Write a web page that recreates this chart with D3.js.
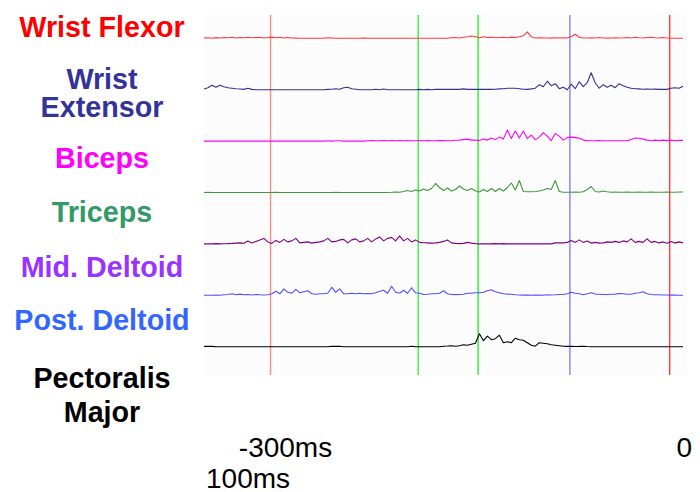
<!DOCTYPE html>
<html>
<head>
<meta charset="utf-8">
<script src="https://cdn.jsdelivr.net/npm/d3@7"></script>
<style>
  html, body { margin: 0; padding: 0; background: #fff; }
  svg { display: block; font-family: "Liberation Sans", Arial, sans-serif; }
</style>
</head>
<body>
<div id="chart"></div>
<script>
// EMG traces, one sample every 3 ms from -350 ms to +10 ms (amplitude, arbitrary units)
const channels = ["Wrist Flexor", "Wrist Extensor", "Biceps", "Triceps", "Mid. Deltoid", "Post. Deltoid", "Pectoralis Major"];
const labelLines = [["Wrist Flexor"], ["Wrist", "Extensor"], ["Biceps"], ["Triceps"], ["Mid. Deltoid"], ["Post. Deltoid"], ["Pectoralis", "Major"]];
const tStart = -350;
const tStep = 3;

const wristFlexor = [
  0.3, 0.5, 0, 0.7, 0.3, 0.8, 0.5, 1, 0.3, 0.8,
  0.5, 1, 0.5, 0.8, 1, 0.3, 0.8, 1.2, 0.5, 1,
  0.3, 0.8, 0.3, 0.2, 0, 0, 0, 0, 0, 0,
  0, 0.5, 0.3, 0, 0, 0, 0, 0, 0, 0,
  0.3, 0, 0, 0, 0, 0, 0, 0, 0, 0,
  0, 0, 0, 0, 0, 0, 0, 0, 0, 0,
  0, 0, 0.5, 0.8, 0.3, 1, 1.5, 2.3, 1.5, 0.5,
  1.5, 0.8, 1, 0.5, 0.8, 1, 0.5, 1.2, 0.8, 1.5,
  2.5, 6.5, 1.5, 0.3, 0.5, 0.3, 0.3, 0.2, 0.5, 0.3,
  0.5, 0.3, 1.5, 4, 1, 0.3, 0.3, 0.5, 0.3, 0.8,
  0.3, 0.2, 0.3, 0.5, 0.3, 0.5, 0.8, 0.3, 1, 0.5,
  0.3, 0.8, 1, 0.5, 0.3, 0.8, 0.3, 0, 0, 0,
  0
];
const wristExtensor = [
  0.7, 2, 4.5, 2.5, 4.5, 3, 2, 1.5, 1, 0.7,
  0.3, 1.5, 0.3, 0, 0, 0, 0, 0, 0, 0,
  0, 0, 0, 0, 0, 0, 0, 0, 0, 0,
  0, 0.3, 0.5, 1, 0.5, 2, 2.5, 1, 0.5, 0,
  0, 0, 0, 0.5, 0, 0.7, 0, 0, 0, 0,
  0, 0, 0, 0, 0.3, 0, 0.3, 0, 0.3, 0.5,
  0.3, 0.5, 0.3, 0.5, 0.3, 0.8, 0.3, 0.5, 0.3, 0.3,
  0.3, 0.5, 0.3, 0.5, 0.8, 1, 1.5, 1.5, 1.5, 1,
  0.5, 0.3, 0.8, 1.5, 5, 3, 8.5, 4, 6, 1,
  2.5, 0, 5.5, 1, 8, 3, 7, 17, 7, 1.5,
  5, 2.5, 4.5, 2, 6, 4, 2.5, 1.5, 1, 0.8,
  0.5, 0.6, 0.4, 0.6, 0.3, 0.5, 0.3, 1.5, 2, 1.5,
  3.5
];
const biceps = [
  0, 0, 0, 0, 0, 0, 0, 0, 0, 0,
  0, 0, 0, 0, 0, 0, 0, 0, 0, 0,
  0, 0, 0, 0, 0, 0, 0, 0, 0, 0,
  0, 0.3, 0, 0.3, 0.3, 0, 0, 0, 0, 0,
  0, 0.3, 0.5, 0.3, 0.3, 0.5, 0.3, 0.5, 0.3, 0.5,
  0.3, 0.5, 0.3, 0.3, 0.5, 0.3, 0.5, 0.3, 0.3, 0.5,
  0.5, 0.3, 0.3, 0.8, 1, 1.5, 2, 1, 1, 0.5,
  2, 1, 3, 1.5, 4, 2, 11, 2.5, 10, 3,
  10, 2.5, 6, 1.5, 4, 8.5, 5, 0.5, 7.5, 5,
  1, 3.5, 4, 3.5, 3, 1, 0.5, 0.3, 0.3, 0.5,
  0.3, 0.3, 0.3, 0.3, 0.3, 0.3, 0.3, 1.5, 3, 2.8,
  2, 1, 0.3, 1, 0.5, 1, 0.5, 1, 0.3, 0.7,
  0.7
];
const triceps = [
  0, 0.3, 0, 0, 0, 0, 0, 0, 0, 0,
  0, 0, 0, 0, 0, 0, 0, 0, 0.3, 0,
  0, 0, 0, 0, 0, 0, 0, 0, 0, 0,
  0, 0, 0, 0.3, 0, 0, 0, 0, 0, 0,
  0, 0, 0, 0, 0, 0, 0, 0.2, 0.5, 0.3,
  1, 2, 1, 2.5, 1.5, 3.5, 2, 4, 9, 5,
  2, 4.5, 1.5, 3, 6.5, 3.5, 2, 4, 1.5, 0.5,
  3, 1, 4, 1, 4, 1.5, 5, 9.5, 2.5, 12,
  1, 0.7, 0.7, 1, 1.5, 2.5, 4, 3, 12, 1,
  0.3, 0.2, 0.2, 0.5, 0.3, 0.8, 3, 6, 1, 0.5,
  1.5, 0.8, 0.3, 0.5, 0.3, 0.2, 0.5, 0.3, 0.2, 0.5,
  0.3, 0.2, 0.5, 0.3, 0.2, 0.3, 0.5, 0.2, 0.3, 0.5,
  0.5
];
const midDeltoid = [
  0, 0.2, 0, 0.3, 0, 0.2, 0.3, 0.5, 0.8, 1,
  0.7, 3, 1, 2.5, 4, 5.5, 2, 0.5, 3.5, 1.5,
  4.5, 2, 3, 5.5, 1, 1.5, 2, 0.8, 1.5, 2,
  3, 5.5, 2, 2.5, 4, 4.5, 1, 4, 5, 2,
  3, 5.5, 2, 5, 7, 3, 5.5, 6.5, 3, 8,
  3, 5.5, 2, 4, 1.5, 1.2, 1, 0.8, 1, 1.5,
  2.5, 4, 1, 0.5, 0.3, 0.5, 1.5, 0.8, 0.3, 0,
  0, 0, 0, 0.3, 0, 0.3, 0, 0, 0, 0,
  0, 0, 0, 0, 0, 0, 0, 0, 1, 1.2,
  1, 1.5, 3.5, 1.5, 4, 1.5, 3, 0.8, 1.5, 0.8,
  1, 2, 1.5, 2.5, 1.5, 3, 2, 5, 1.5, 2.5,
  1.5, 5, 1.5, 2.5, 1, 2, 0.7, 2.5, 0.8, 2,
  1
];
const postDeltoid = [
  0, 0, 0, 0.2, 0, 0.5, 0.8, 1.5, 0.5, 1.2,
  0.5, 0.8, 0.3, 0.8, 0.5, 0.3, 0.5, 1.5, 4, 1.5,
  6.5, 3, 2, 6, 2.5, 3.5, 4.5, 1.5, 1, 1.5,
  1.5, 2, 8, 3, 6.5, 1.5, 1.5, 2, 1.5, 2,
  1.5, 1.8, 1.5, 2.5, 4, 5, 2, 9, 3, 2,
  5, 2, 7.5, 2.5, 2, 0.8, 1, 1.5, 1.5, 2,
  4.5, 1.5, 0.8, 0.7, 0.8, 1, 2, 2, 2.5, 2.5,
  3, 4.5, 5.5, 3.5, 2.5, 1.5, 1.2, 1, 0.5, 0.3,
  0.2, 0.3, 0, 0.2, 0.3, 0, 0.5, 0.3, 0.5, 0.8,
  0.8, 1.5, 3, 2, 1.5, 0.5, 1.5, 2.5, 1.2, 1,
  0.8, 0.8, 1, 1.2, 1.8, 1.5, 1, 1, 2, 2.5,
  3.5, 1.5, 0.8, 0.5, 0.5, 0.3, 0.3, 0.2, 0.2, 0,
  0
];
const pectoralisMajor = [
  0.3, 0.5, 0.3, 0, 0, 0, 0, 0, 0, 0,
  0, 0, 0, 0, 0, 0, 0, 0, 0, 0,
  0, 0, 0, 0, 0, 0, 0, 0, 0, 0,
  0, 0, 0.5, 0.3, 0.5, 0, 0, 0, 0, 0,
  0, 0, 0, 0, 0, 0, 0, 0, 0, 0,
  0, 0, 0.5, 0, 0, 0, 0, 0, 0, 0,
  0.5, 0.7, 1, 0.5, 1, 2, 1.5, 2.5, 3.5, 13,
  6, 10.5, 7, 8, 11.5, 4, 5, 4, 8.5, 7,
  6.5, 4, 1.5, 0.5, 4, 3.5, 3, 2, 1.5, 1,
  0.5, 0.3, 0.3, 0.2, 0.3, 0.5, 0.2, 0, 0, 0,
  0, 0, 0, 0, 0, 0, 0, 0, 0, 0,
  0, 0, 0, 0, 0, 0, 0, 0, 0, 0,
  0
];
const series = [wristFlexor, wristExtensor, biceps, triceps, midDeltoid, postDeltoid, pectoralisMajor];

// event markers (ms)
const markers = [-300, -189, -144, -75, 0];

// ---- styling / layout ----
const labelColors = ["#ff0000", "#333399", "#ff00ff", "#339966", "#9933ff", "#3366ff", "#000000"];
const traceColors = ["#ff3b3b", "#33338f", "#ff00ff", "#3d9a3d", "#800080", "#5050ff", "#000000"];
const markerColors = ["#ff8a8a", "#3cf03c", "#2ee82e", "#8080ff", "#ff4040"];
const labelBaselines = [[36.7], [89.3, 117], [168], [221.7], [276.7], [330], [388.3, 421.7]];

const width = 700, height = 492;
const svg = d3.select("#chart").append("svg")
  .attr("width", width)
  .attr("height", height)
  .attr("viewBox", [0, 0, width, height]);

const x = d3.scaleLinear().domain([-350, 10]).range([204, 683]);
const lane = d3.scalePoint().domain(channels).range([38.3, 346.7]);
const amp = d3.scaleLinear().domain([0, 10]).range([0, -10]);

// plot background
svg.append("rect")
  .attr("x", 204).attr("y", 15)
  .attr("width", 483).attr("height", 360)
  .attr("fill", "#fcfcfc");

// event markers
svg.append("g")
  .selectAll("line")
  .data(markers)
  .join("line")
  .attr("x1", (d) => x(d)).attr("x2", (d) => x(d))
  .attr("y1", 15).attr("y2", 375)
  .attr("stroke", (d, i) => markerColors[i])
  .attr("stroke-width", 1.4);

// traces
const line = d3.line()
  .x((d, i) => x(tStart + i * tStep))
  .y((d) => amp(d));

svg.append("g")
  .selectAll("path")
  .data(series)
  .join("path")
  .attr("transform", (d, i) => `translate(0,${lane(channels[i])})`)
  .attr("d", line)
  .attr("fill", "none")
  .attr("stroke", (d, i) => traceColors[i])
  .attr("stroke-width", 1.1)
  .attr("stroke-linejoin", "round");

// channel labels
const labels = svg.append("g")
  .attr("font-weight", "bold")
  .attr("font-size", 28.7)
  .attr("text-anchor", "middle");

labelLines.forEach((lines, i) => {
  lines.forEach((txt, j) => {
    labels.append("text")
      .attr("x", 102)
      .attr("y", labelBaselines[i][j])
      .attr("fill", labelColors[i])
      .text(txt);
  });
});

// time annotations
const ann = svg.append("g").attr("font-size", 28).attr("fill", "#000");
ann.append("text").attr("x", x(-300) + 15).attr("y", 457).attr("text-anchor", "middle").text("-300ms");
ann.append("text").attr("x", 692).attr("y", 457).attr("text-anchor", "end").text("0");
ann.append("text").attr("x", 206).attr("y", 488).text("100ms");
</script>
</body>
</html>
